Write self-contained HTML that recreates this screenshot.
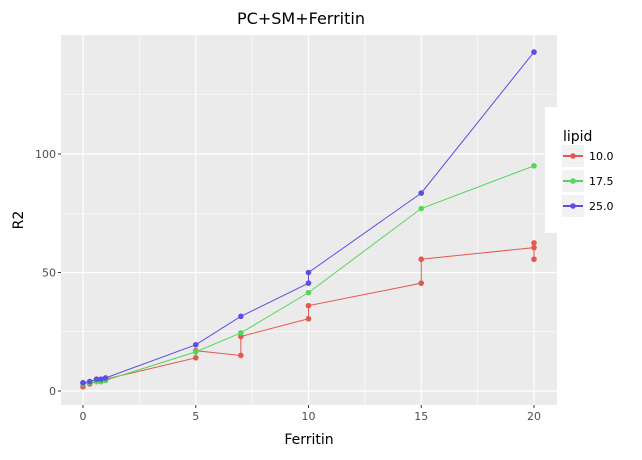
<!DOCTYPE html>
<html><head><meta charset="utf-8"><style>
body{margin:0;background:#fff;font-family:"DejaVu Sans","Liberation Sans",sans-serif}
svg text{font-family:"DejaVu Sans","Liberation Sans",sans-serif}
</style></head><body>
<svg id="c" width="642" height="456" xmlns="http://www.w3.org/2000/svg"></svg>
<script>
const xTicks=[0,5,10,15,20];
const yTicks=[0,50,100];
const seriesNames=["10.0","17.5","25.0"];
const colors=["#e15a4f","#55d65a","#5d4fe0"];
const redX=[0,0,0.3,0.6,0.8,1,5,5,7,7,10,10,15,15,20,20,20];
const redY=[1.8,3.3,3,4,4,5,14,17,15,23,30.5,36,45.5,55.6,60.5,62.5,55.6];
const greenX=[0,0.3,0.6,0.8,1,5,7,10,15,20];
const greenY=[3,3.5,4,4,4.5,16.5,24.5,41.5,77,95];
const blueX=[0,0.3,0.6,0.8,1,5,7,10,10,15,20];
const blueY=[3.5,4,5,5,5.5,19.5,31.5,45.5,50,83.5,143];
const NS="http://www.w3.org/2000/svg";
const svg=document.getElementById('c');
const L=61,R=557,T=35,B=405;
const x=v=>83+(v)*(534-83)/20;
const y=v=>391-v*(391-154)/100;
function mk(t,a,p){const e=document.createElementNS(NS,t);for(const k in a)e.setAttribute(k,a[k]);(p||svg).appendChild(e);return e;}
const panel=mk('rect',{x:L,y:T,width:R-L,height:B-T,fill:'#ebebeb'});


for(let v=-2.5;v<=22.5;v+=5){if(x(v)>L&&x(v)<R){const g=mk('line',{x1:x(v),x2:x(v),y1:T,y2:B,stroke:'#fff','stroke-width':0.6});}}
for(let v=25;v<=150;v+=50){if(y(v)>T){const g=mk('line',{x1:L,x2:R,y1:y(v),y2:y(v),stroke:'#fff','stroke-width':0.6});}}
xTicks.forEach(v=>{const g=mk('line',{x1:x(v),x2:x(v),y1:T,y2:B,stroke:'#fff','stroke-width':1.2});
const tk=mk('line',{x1:x(v),x2:x(v),y1:B,y2:B+3,stroke:'#333'});
const t=mk('text',{x:x(v),y:B+15,'text-anchor':'middle','font-size':11,fill:'#4d4d4d'});t.textContent=v;});
yTicks.forEach(v=>{const g=mk('line',{x1:L,x2:R,y1:y(v),y2:y(v),stroke:'#fff','stroke-width':1.2});
const tk=mk('line',{x1:L-3,x2:L,y1:y(v),y2:y(v),stroke:'#333'});
const t=mk('text',{x:L-5,y:y(v)+4,'text-anchor':'end','font-size':11,fill:'#4d4d4d'});t.textContent=v;});
const xs=[redX,greenX,blueX],ys=[redY,greenY,blueY];
xs.forEach((X,i)=>{const Y=ys[i];
const pl=mk('polyline',{points:X.map((v,j)=>x(v)+','+y(Y[j])).join(' '),fill:'none',stroke:colors[i],'stroke-width':1});

X.forEach((v,j)=>{const c=mk('circle',{cx:x(v),cy:y(Y[j]),r:2.8,fill:colors[i]});});});
const tt=mk('text',{x:301,y:24,'text-anchor':'middle','font-size':16,fill:'#000'});tt.textContent='PC+SM+Ferritin';
const xl=mk('text',{x:309,y:444,'text-anchor':'middle','font-size':14,fill:'#000'});xl.textContent='Ferritin';
const yl=mk('text',{x:23,y:220,'text-anchor':'middle','font-size':14,fill:'#000',transform:'rotate(-90 23 220)'});yl.textContent='R2';
const lg=mk('g',{});
mk('rect',{x:545,y:107,width:97,height:126,fill:'#fff'},lg);
const lt=mk('text',{x:563,y:141,'font-size':14,fill:'#000'},lg);lt.textContent='lipid';
seriesNames.forEach((n,i)=>{const cy=156+i*25;
const e=mk('g',{},lg);
mk('rect',{x:562,y:cy-11,width:22,height:22,fill:'#f2f2f2'},e);
mk('line',{x1:563,x2:583,y1:cy,y2:cy,stroke:colors[i],'stroke-width':2},e);
mk('circle',{cx:573,cy:cy,r:2.8,fill:colors[i]},e);
const t=mk('text',{x:589,y:cy+4,'font-size':11,fill:'#000'},e);t.textContent=n;});
</script>
</body></html>
